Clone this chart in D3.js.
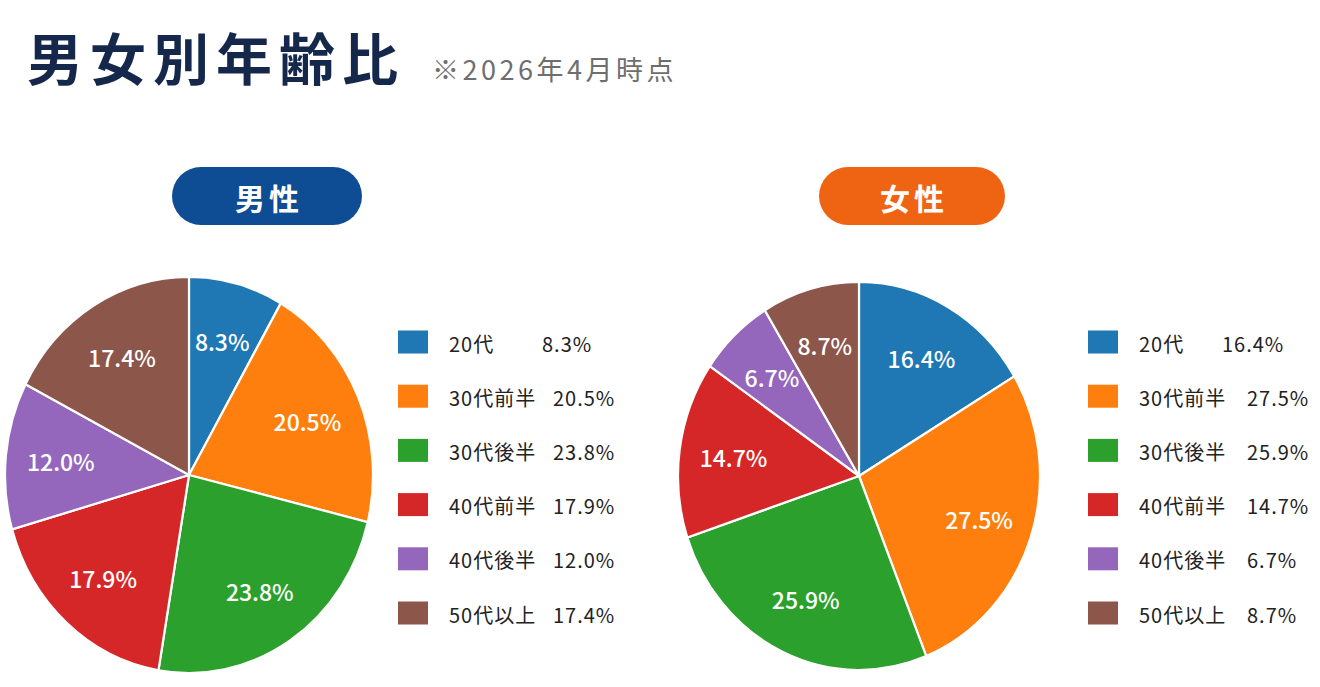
<!DOCTYPE html>
<html lang="ja">
<head>
<meta charset="utf-8">
<title>男女別年齢比</title>
<script src="https://cdn.jsdelivr.net/npm/d3@7"></script>
<style>
    body { margin: 0; background: #fff; }
    svg { display: block; font-family: "Noto Sans CJK JP", "Noto Sans", sans-serif; }
    .slice { stroke: #fff; stroke-width: 2.2px; vector-effect: non-scaling-stroke; }
    .slice-label { fill: #fff; font-size: 23px; font-weight: 500; text-anchor: middle; dominant-baseline: central; }
    .legend-text { fill: #222; font-size: 20px; font-weight: 400; letter-spacing: 1px; dominant-baseline: central; }
</style>
</head>
<body>
<div id="chart"></div>
<script>
// age groups (shared by both pies)
var categories = ["20代", "30代前半", "30代後半", "40代前半", "40代後半", "50代以上"];
var colors = ["#1f77b4", "#ff7f0e", "#2ca02c", "#d62728", "#9467bd", "#8c564b"];

// percent values
var maleValues = [8.3, 20.5, 23.8, 17.9, 12.0, 17.4];
var femaleValues = [16.4, 27.5, 25.9, 14.7, 6.7, 8.7];

var titleText = "男女別年齢比";
var noteText = "※2026年4月時点";

var width = 1320, height = 687;

var svg = d3.select("#chart")
    .append("svg")
    .attr("width", width)
    .attr("height", height);

// title + note
svg.append("text")
    .attr("x", 27)
    .attr("y", 80)
    .attr("fill", "#15284c")
    .attr("font-size", 56)
    .attr("font-weight", 700)
    .attr("letter-spacing", 7)
    .text(titleText);

svg.append("text")
    .attr("x", 432)
    .attr("y", 80)
    .attr("fill", "#6e6e6e")
    .attr("font-size", 27)
    .attr("letter-spacing", 3.5)
    .text(noteText);

var color = d3.scaleOrdinal().domain(categories).range(colors);

var pie = d3.pie()
    .sort(null)
    .value(function (d) { return d.value; });

// one pie + badge + legend
function drawGroup(cfg) {
    var data = categories.map(function (c, i) {
        return {name: c, value: cfg.values[i]};
    });

    // badge
    var badge = svg.append("g")
        .attr("transform", "translate(" + cfg.badge.x + "," + cfg.badge.y + ")");
    badge.append("rect")
        .attr("width", cfg.badge.w)
        .attr("height", cfg.badge.h)
        .attr("rx", cfg.badge.h / 2)
        .attr("fill", cfg.badge.color);
    badge.append("text")
        .attr("x", cfg.badge.w / 2 + 2)
        .attr("y", cfg.badge.h / 2 + 1)
        .attr("text-anchor", "middle")
        .attr("dominant-baseline", "central")
        .attr("fill", "#fff")
        .attr("font-size", 30)
        .attr("font-weight", 700)
        .attr("letter-spacing", 4)
        .text(cfg.badge.label);

    // pie (the picture is a little taller than wide, so squash with a scale)
    var r = cfg.rx;
    var sy = cfg.ry / cfg.rx;
    var arc = d3.arc().innerRadius(0).outerRadius(r);
    var labelArc = d3.arc().innerRadius(r * 0.7).outerRadius(r * 0.7);

    var g = svg.append("g")
        .attr("transform", "translate(" + cfg.cx + "," + cfg.cy + ")");

    var arcs = pie(data);

    g.append("g")
        .attr("transform", "scale(1," + sy + ")")
        .selectAll("path")
        .data(arcs)
        .enter()
        .append("path")
        .attr("class", "slice")
        .attr("fill", function (d) { return color(d.data.name); })
        .attr("d", arc);

    g.selectAll(".slice-label")
        .data(arcs)
        .enter()
        .append("text")
        .attr("class", "slice-label")
        .attr("transform", function (d) {
            var c = labelArc.centroid(d);
            return "translate(" + c[0] + "," + (c[1] * sy) + ")";
        })
        .text(function (d) { return d.data.value.toFixed(1) + "%"; });

    // legend
    var legend = svg.append("g")
        .attr("transform", "translate(" + cfg.legend.x + "," + cfg.legend.y + ")");

    var rows = legend.selectAll("g")
        .data(data)
        .enter()
        .append("g")
        .attr("transform", function (d, i) { return "translate(0," + (i * 54.2) + ")"; });

    rows.append("rect")
        .attr("x", 0)
        .attr("y", -11.5)
        .attr("width", 30)
        .attr("height", 23)
        .attr("fill", function (d) { return color(d.name); });

    rows.append("text")
        .attr("class", "legend-text")
        .attr("x", 51)
        .attr("y", 1)
        .text(function (d) { return d.name; });

    rows.append("text")
        .attr("class", "legend-text")
        .attr("x", function (d, i) { return i === 0 ? cfg.legend.firstValueX : cfg.legend.valueX; })
        .attr("y", 1)
        .text(function (d) { return d.value.toFixed(1) + "%"; });
}

drawGroup({
    values: maleValues,
    cx: 189, cy: 475, rx: 184, ry: 198,
    badge: {x: 172, y: 167, w: 190, h: 58, color: "#0e4d94", label: "男性"},
    legend: {x: 398, y: 342, valueX: 155, firstValueX: 144}
});

drawGroup({
    values: femaleValues,
    cx: 859, cy: 476, rx: 181, ry: 194,
    badge: {x: 819, y: 167, w: 186, h: 58, color: "#ef6413", label: "女性"},
    legend: {x: 1088, y: 342, valueX: 159, firstValueX: 134}
});
</script>
</body>
</html>
